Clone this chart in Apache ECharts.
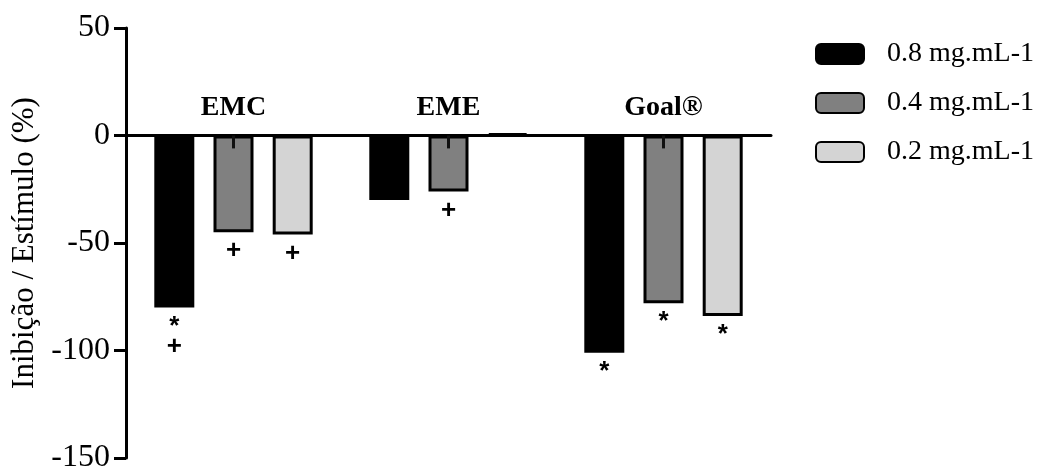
<!DOCTYPE html>
<html>
<head>
<meta charset="utf-8">
<style>
  html, body { margin: 0; padding: 0; background: #ffffff; }
  #chart { width: 1047px; height: 467px; }
</style>
<script src="https://cdn.jsdelivr.net/npm/echarts@6/dist/echarts.min.js"></script>
</head>
<body>
<div id="chart"></div>
<script>
// Extract groups and concentrations
const categories = ['EMC', 'EME', 'Goal®'];
const seriesNames = ['0.8 mg.mL-1', '0.4 mg.mL-1', '0.2 mg.mL-1'];

// Inhibition (-) / stimulation (+) in %
const values08 = [-80, -30, -101];
const values04 = [-45, -26, -78];
const values02 = [-46, 1, -84];

// Short error whisker drawn inside the 0.4 mg.mL-1 bars
const whisker04 = [-6, -6, -6];

// Significance marks under each bar
const marks08 = ['*\n+', '', '*'];
const marks04 = ['+', '+', '*'];
const marks02 = ['+', '', '*'];

const yTicks = [50, 0, -50, -100, -150];

const serif = 'Liberation Serif';
const barColors = ['#000000', '#808080', '#d4d4d4'];

function barSeries(name, data, marks, color) {
  return {
    name: name,
    type: 'bar',
    data: data,
    barWidth: 40,
    barGap: '48%',
    itemStyle: { color: color, borderColor: '#000000', borderWidth: 3 },
    label: {
      show: true,
      position: 'bottom',
      distance: 9,
      color: '#000000',
      fontFamily: 'Liberation Sans',
      fontWeight: 'bold',
      fontSize: 26,
      lineHeight: 20,
      formatter: function (p) { return marks[p.dataIndex]; }
    },
    emphasis: { disabled: true },
    z: 2
  };
}

const chart = echarts.init(document.getElementById('chart'), null, { renderer: 'canvas' });

chart.setOption({
  animation: false,
  backgroundColor: '#ffffff',
  grid: { left: 126, right: 276, top: 28, bottom: 9, containLabel: false, outerBoundsMode: 'none' },
  legend: {
    data: seriesNames,
    orient: 'vertical',
    left: 815,
    top: 40,
    padding: 0,
    itemWidth: 48,
    itemHeight: 20,
    itemGap: 21,
    icon: 'roundRect',
    textStyle: { fontFamily: serif, fontSize: 28, color: '#000000', padding: [0, 0, 0, 18] },
    selectedMode: false
  },
  xAxis: {
    type: 'category',
    data: categories,
    position: 'top',
    axisLine: { onZero: true, lineStyle: { color: '#000000', width: 3 } },
    axisTick: { show: false },
    axisLabel: {
      // group names sit just above the zero line
      margin: -94,
      color: '#000000',
      fontFamily: serif,
      fontWeight: 'bold',
      fontSize: 28
    },
    splitLine: { show: false }
  },
  yAxis: {
    type: 'value',
    min: yTicks[yTicks.length - 1],
    max: yTicks[0],
    interval: 50,
    name: 'Inibição / Estímulo (%)',
    nameLocation: 'middle',
    nameGap: 76,
    nameTextStyle: { fontFamily: serif, fontSize: 31, color: '#000000' },
    axisLine: { show: true, onZero: false, lineStyle: { color: '#000000', width: 3 } },
    axisTick: { show: true, length: 12, lineStyle: { color: '#000000', width: 3 } },
    axisLabel: {
      margin: 16,
      color: '#000000',
      fontFamily: serif,
      fontSize: 32,
      formatter: function (v) { return v < 0 ? '-' + Math.abs(v) : String(v); }
    },
    splitLine: { show: false }
  },
  series: [
    barSeries(seriesNames[0], values08, marks08, barColors[0]),
    barSeries(seriesNames[1], values04, marks04, barColors[1]),
    barSeries(seriesNames[2], values02, marks02, barColors[2]),
    {
      name: 'whisker',
      type: 'custom',
      data: whisker04.map(function (v, i) { return [i, v]; }),
      z: 5,
      renderItem: function (params, api) {
        const top = api.coord([api.value(0), 0]);
        const end = api.coord([api.value(0), api.value(1)]);
        return {
          type: 'line',
          shape: { x1: top[0], y1: top[1], x2: end[0], y2: end[1] },
          style: { stroke: '#111111', lineWidth: 3 }
        };
      }
    }
  ]
});
</script>
</body>
</html>
